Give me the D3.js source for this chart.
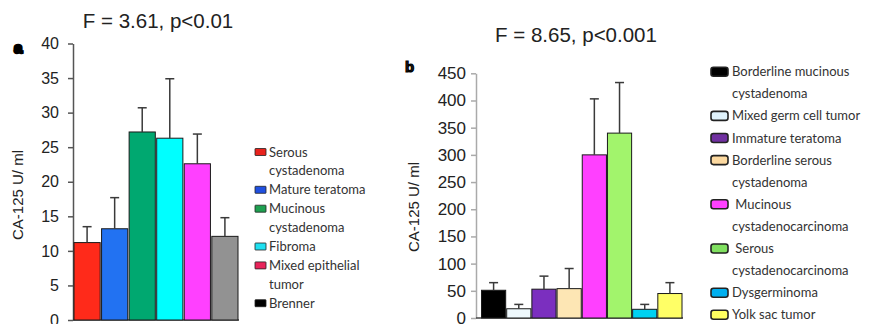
<!DOCTYPE html>
<html>
<head>
<meta charset="utf-8">
<script src="https://d3js.org/d3.v7.min.js"></script>
<style>
  body { margin: 0; background: #fff; }
  text { font-family: "Liberation Sans", Arial, sans-serif; fill: #222; }
  .legend text { font-family: Lato, "Open Sans", sans-serif; font-size: 13px; fill: #333; white-space: pre; }
  .bar { stroke: #1a1a1a; stroke-width: 1; }
  .err { stroke: #3a3a3a; stroke-width: 1.5; fill: none; }
</style>
</head>
<body>
<svg id="chart" width="883" height="324"></svg>
<script>
  // panel a
  var catsA = ['Serous cystadenoma', 'Mature teratoma', 'Mucinous cystadenoma', 'Fibroma', 'Mixed epithelial tumor', 'Brenner'];
  var meanA = [11.2, 13.2, 27.2, 26.3, 22.6, 12.1];
  var errA = [13.5, 17.7, 30.7, 34.9, 26.9, 14.8];
  var barColorsA = ['#ff2a1a', '#2272f2', '#00a870', '#00ffff', '#ff40ff', '#929292'];
  var legendA = [['Serous', 'cystadenoma'], ['Mature teratoma'], ['Mucinous', 'cystadenoma'], ['Fibroma'], ['Mixed epithelial', 'tumor'], ['Brenner']];
  var legendColorsA = ['#e8221c', '#2050e0', '#1ea050', '#20e0f0', '#e8245a', '#000000'];
  var ticksA = [0, 5, 10, 15, 20, 25, 30, 35, 40];

  // panel b
  var catsB = ['Borderline mucinous cystadenoma', 'Mixed germ cell tumor', 'Immature teratoma', 'Borderline serous cystadenoma',
               'Mucinous cystadenocarcinoma', 'Serous cystadenocarcinoma', 'Dysgerminoma', 'Yolk sac tumor'];
  var meanB = [51, 17, 53, 54, 300, 340, 16, 45];
  var errB = [65, 25, 77, 91, 403, 433, 25, 65];
  var barColorsB = ['#000000', '#eef8fc', '#7b2fbf', '#fde6b4', '#ff40ff', '#a2f46c', '#00d2f2', '#ffff66'];
  var legendB = [['Borderline mucinous', 'cystadenoma'], ['Mixed germ cell tumor'], ['Immature teratoma'], ['Borderline serous', 'cystadenoma'],
                 [' Mucinous', 'cystadenocarcinoma'], [' Serous', 'cystadenocarcinoma'], ['Dysgerminoma'], ['Yolk sac tumor']];
  var legendColorsB = ['#000000', '#dff2fb', '#7030a0', '#fcd9a0', '#ff40ff', '#80e060', '#00b0f0', '#ffff60'];
  var ticksB = [0, 50, 100, 150, 200, 250, 300, 350, 400, 450];

  var svg = d3.select('#chart');
  svg.append('rect').attr('width', 883).attr('height', 324).attr('fill', '#fff');

  function panel(opt) {
    var g = svg.append('g');
    var x = d3.scaleBand().domain(opt.cats).range(opt.xr).paddingInner(opt.pad);
    var y = d3.scaleLinear().domain(opt.ydom).range(opt.yr);

    // y axis
    var ax = g.append('g')
      .attr('transform', 'translate(' + opt.axisX + ',0)')
      .call(d3.axisLeft(y).tickValues(opt.ticks).tickSize(5).tickSizeOuter(0).tickPadding(opt.tickPad));
    ax.select('.domain').attr('stroke', opt.axisColor).attr('stroke-width', 1.5);
    ax.selectAll('.tick line').attr('stroke', opt.axisColor).attr('stroke-width', 1.5);
    ax.selectAll('.tick text').style('font-size', opt.tickFont + 'px').attr('fill', '#222');

    // baseline
    g.append('line')
      .attr('x1', opt.axisX).attr('x2', opt.xr[1] + 1)
      .attr('y1', y(0)).attr('y2', y(0))
      .attr('stroke', '#444').attr('stroke-width', 1.5);

    // bars
    g.selectAll('rect.bar').data(opt.cats).enter().append('rect')
      .attr('class', 'bar')
      .attr('x', function(d) { return x(d); })
      .attr('width', x.bandwidth())
      .attr('y', function(d, i) { return y(opt.mean[i]); })
      .attr('height', function(d, i) { return y(0) - y(opt.mean[i]); })
      .attr('fill', function(d, i) { return opt.colors[i]; });

    // error bars
    var eb = g.selectAll('g.err').data(opt.cats).enter().append('g');
    eb.append('line').attr('class', 'err')
      .attr('x1', function(d) { return x(d) + x.bandwidth() / 2; })
      .attr('x2', function(d) { return x(d) + x.bandwidth() / 2; })
      .attr('y1', function(d, i) { return y(opt.mean[i]); })
      .attr('y2', function(d, i) { return y(opt.err[i]); });
    eb.append('line').attr('class', 'err')
      .attr('x1', function(d) { return x(d) + x.bandwidth() / 2 - 4.5; })
      .attr('x2', function(d) { return x(d) + x.bandwidth() / 2 + 4.5; })
      .attr('y1', function(d, i) { return y(opt.err[i]); })
      .attr('y2', function(d, i) { return y(opt.err[i]); });

    // y label
    g.append('text')
      .attr('transform', 'translate(' + opt.ylabX + ',' + opt.ylabY + ') rotate(-90)')
      .attr('text-anchor', 'middle')
      .style('font-size', '15px')
      .text('CA-125 U/ ml');

    // title
    g.append('text')
      .attr('x', opt.titleX).attr('y', opt.titleY)
      .attr('text-anchor', 'middle')
      .style('font-size', '20.5px')
      .text(opt.title);

    // panel letter
    g.append('text')
      .attr('x', opt.letterX).attr('y', opt.letterY)
      .style('font-size', '15px').style('font-weight', 'bold')
      .attr('stroke', '#000').attr('stroke-width', opt.letterStroke)
      .attr('fill', '#000')
      .text(opt.letter);

    // legend
    var lg = g.append('g').attr('class', 'legend');
    var line = 0;
    opt.legend.forEach(function(lines, i) {
      var cy = opt.legY + line * opt.legStep;
      lg.append('rect')
        .attr('x', opt.swX).attr('y', cy - opt.swH / 2)
        .attr('width', opt.swW).attr('height', opt.swH)
        .attr('rx', opt.swR)
        .attr('fill', opt.legColors[i])
        .attr('stroke', '#222').attr('stroke-width', opt.swStroke);
      lines.forEach(function(t, j) {
        lg.append('text')
          .attr('x', opt.txX)
          .attr('y', cy + j * opt.legStep)
          .attr('dy', '0.35em')
          .text(t);
      });
      line += lines.length;
    });
  }

  panel({
    cats: catsA, mean: meanA, err: errA, colors: barColorsA,
    xr: [74, 238], pad: 0.05, ydom: [0, 40], yr: [320, 43.5], ticks: ticksA,
    axisX: 73, tickPad: 9, axisColor: '#555', tickFont: 16,
    ylabX: 23, ylabY: 195, title: 'F = 3.61, p<0.01', titleX: 158, titleY: 28,
    letter: 'a', letterX: 14, letterY: 53, letterStroke: 2.5,
    legend: legendA, legColors: legendColorsA, legY: 152, legStep: 18.9,
    swX: 255, swW: 11, swH: 7, swR: 0.5, swStroke: 0.8, txX: 269
  });

  panel({
    cats: catsB, mean: meanB, err: errB, colors: barColorsB,
    xr: [481.5, 682], pad: 0.04, ydom: [0, 450], yr: [318, 73.3], ticks: ticksB,
    axisX: 476, tickPad: 5, axisColor: '#aaa', tickFont: 17,
    ylabX: 419, ylabY: 207, title: 'F = 8.65, p<0.001', titleX: 576, titleY: 42,
    letter: 'b', letterX: 405, letterY: 72, letterStroke: 1.2,
    legend: legendB, legColors: legendColorsB, legY: 71.7, legStep: 22.1,
    swX: 711, swW: 17, swH: 9, swR: 2.5, swStroke: 1.6, txX: 732
  });
</script>
</body>
</html>
